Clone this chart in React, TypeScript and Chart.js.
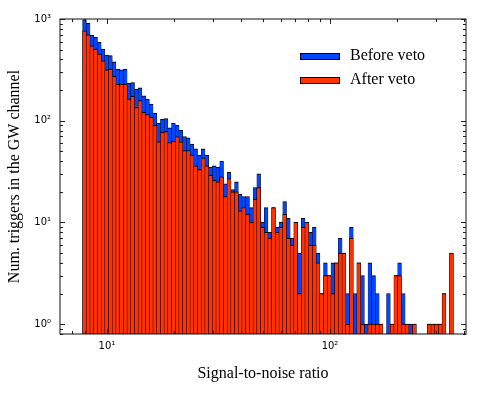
import React, { useEffect, useRef } from "react";
import { Chart, registerables } from "chart.js";

Chart.register(...registerables);

// Histogram definition: log-spaced SNR bins
const SNR_LOW = 7.78;
const SNR_HIGH = 357;
const N_BINS = 100;

// Counts per bin
const beforeVeto = [
  985, 912, 695, 659, 589, 506, 441, 436, 379, 322,
  316, 322, 234, 237, 205, 210, 176, 163, 146, 119,
  94, 104, 105, 85, 94, 90, 81, 70, 68, 59,
  53, 46, 53, 46, 35, 36, 35, 40, 24, 31,
  21, 25, 19, 18, 18, 14, 22, 30, 10, 14,
  8, 14, 9, 10, 16, 11, 7, 10, 5, 11,
  10, 8, 9, 5, 2, 4, 3, 4, 4, 7,
  5, 2, 9, 2, 4, 3, 1, 4, 3, 2,
  1, 0, 2, 1, 3, 4, 2, 1, 1, 1,
  0, 0, 0, 1, 1, 1, 1, 2, 0, 5,
];
const afterVeto = [
  766, 699, 545, 506, 452, 388, 316, 322, 273, 229,
  229, 229, 163, 174, 135, 158, 121, 115, 108, 90,
  62, 77, 78, 61, 63, 70, 62, 51, 51, 46,
  36, 33, 43, 36, 29, 26, 25, 28, 18, 27,
  20, 20, 13, 14, 12, 10, 17, 22, 9, 8,
  7, 14, 8, 9, 12, 7, 6, 10, 2, 9,
  10, 6, 6, 4, 2, 3, 3, 2, 4, 5,
  5, 1, 7, 0, 4, 1, 0, 1, 1, 1,
  1, 0, 0, 1, 3, 3, 1, 1, 0, 1,
  0, 0, 0, 1, 1, 1, 1, 2, 0, 5,
];

const seriesLabels = ["Before veto", "After veto"];
const xTickValues = [10, 100];
const xTickLabels = ["10¹", "10²"];
const yTickValues = [1, 10, 100, 1000];
const yTickLabels = ["10⁰", "10¹", "10²", "10³"];
const xMinorTicks = [7, 8, 9, 20, 30, 40, 50, 60, 70, 80, 90, 200, 300, 400];
const yMinorTicks = [
  0.8, 0.9, 2, 3, 4, 5, 6, 7, 8, 9, 20, 30, 40, 50, 60, 70, 80, 90,
  200, 300, 400, 500, 600, 700, 800, 900,
];

const BLUE = "#0046ff";
const RED = "#ff3200";
const SERIF = "'Liberation Serif', 'DejaVu Serif', serif";
const SANS = "'DejaVu Sans', sans-serif";

const logLo = Math.log10(SNR_LOW);
const logStep = (Math.log10(SNR_HIGH) - logLo) / N_BINS;
const binCenters = Array.from({ length: N_BINS }, (_, i) =>
  Math.pow(10, logLo + (i + 0.5) * logStep)
);

const toPoints = (counts: number[]) =>
  counts.map((c, i) => ({ x: binCenters[i], y: c > 0 ? c : null }));

const decorPlugin = {
  id: "decor",
  afterDatasetsDraw(chart: any) {
    const { ctx, chartArea: ca, scales } = chart;
    const xs = scales.x;
    const ys = scales.y;
    ctx.save();
    ctx.strokeStyle = "#222";
    ctx.lineWidth = 1;
    ctx.beginPath();
    const vTick = (v: number, len: number) => {
      const p = Math.round(xs.getPixelForValue(v)) + 0.5;
      if (p < ca.left || p > ca.right) return;
      ctx.moveTo(p, ca.bottom);
      ctx.lineTo(p, ca.bottom - len);
      ctx.moveTo(p, ca.top);
      ctx.lineTo(p, ca.top + len);
    };
    const hTick = (v: number, len: number) => {
      const p = Math.round(ys.getPixelForValue(v)) + 0.5;
      if (p < ca.top - 1 || p > ca.bottom + 1) return;
      ctx.moveTo(ca.left, p);
      ctx.lineTo(ca.left + len, p);
      ctx.moveTo(ca.right, p);
      ctx.lineTo(ca.right - len, p);
    };
    xTickValues.forEach((v) => vTick(v, 5));
    xMinorTicks.forEach((v) => vTick(v, 3));
    yTickValues.forEach((v) => hTick(v, 5));
    yMinorTicks.forEach((v) => hTick(v, 3));
    ctx.stroke();

    ctx.strokeStyle = "#111";
    ctx.strokeRect(ca.left, ca.top, ca.right - ca.left, ca.bottom - ca.top);

    // legend
    const colors = [BLUE, RED];
    const hx = ca.left + 240;
    const tx = ca.left + 290;
    const rowsY = [ca.top + 37, ca.top + 61];
    ctx.font = `16px ${SERIF}`;
    ctx.textBaseline = "middle";
    ctx.textAlign = "left";
    seriesLabels.forEach((lab, i) => {
      const cy = rowsY[i];
      ctx.fillStyle = colors[i];
      ctx.fillRect(hx, cy - 3, 39, 6);
      ctx.strokeStyle = "#000";
      ctx.lineWidth = 1;
      ctx.strokeRect(hx + 0.5, cy - 3 + 0.5, 39, 6);
      ctx.fillStyle = "#000";
      ctx.fillText(lab, tx, cy);
    });
    ctx.restore();
  },
};

export default function App() {
  const ref = useRef<HTMLCanvasElement>(null);
  useEffect(() => {
    const barCommon = {
      grouped: false,
      categoryPercentage: 1,
      barPercentage: 1,
      borderColor: "#000",
      borderWidth: { top: 1, left: 0.5, right: 0.5, bottom: 0 },
    };
    const chart = new Chart(ref.current!, {
      type: "bar",
      data: {
        datasets: [
          {
            ...barCommon,
            label: seriesLabels[0],
            data: toPoints(beforeVeto),
            backgroundColor: BLUE,
            order: 2,
          } as any,
          {
            ...barCommon,
            label: seriesLabels[1],
            data: toPoints(afterVeto),
            backgroundColor: RED,
            order: 1,
          } as any,
        ],
      },
      options: {
        responsive: false,
        devicePixelRatio: 1,
        animation: false,
        events: [],
        layout: { padding: { top: 19, right: 18, left: 0, bottom: 0 } },
        plugins: { legend: { display: false }, tooltip: { enabled: false } },
        scales: {
          x: {
            type: "logarithmic",
            position: "bottom",
            min: 6.16,
            max: 407,
            offset: false,
            grid: { display: false, drawTicks: false },
            border: { display: false },
            afterBuildTicks: (s: any) => {
              s.ticks = xTickValues.map((v) => ({ value: v }));
            },
            afterFit: (s: any) => {
              s.height = 61;
            },
            ticks: {
              autoSkip: false,
              maxRotation: 0,
              padding: 6,
              color: "#000",
              font: { family: SANS, size: 10 },
              callback: (v: any) => {
                const i = xTickValues.indexOf(Number(v));
                return i >= 0 ? xTickLabels[i] : "";
              },
            },
            title: {
              display: true,
              text: "Signal-to-noise ratio",
              color: "#000",
              font: { family: SERIF, size: 16 },
              padding: { top: 0, bottom: 12 },
            },
          } as any,
          y: {
            type: "logarithmic",
            position: "left",
            min: 0.8,
            max: 1000,
            grid: { display: false, drawTicks: false },
            border: { display: false },
            afterBuildTicks: (s: any) => {
              s.ticks = yTickValues.map((v) => ({ value: v }));
            },
            afterFit: (s: any) => {
              s.width = 60;
            },
            ticks: {
              autoSkip: false,
              padding: 9,
              color: "#000",
              font: { family: SANS, size: 10 },
              callback: (v: any) => {
                const i = yTickValues.indexOf(Number(v));
                return i >= 0 ? yTickLabels[i] : "";
              },
            },
            title: {
              display: true,
              text: "Num. triggers in the GW channel",
              color: "#000",
              font: { family: SERIF, size: 16 },
              padding: { top: 5, bottom: 0 },
            },
          } as any,
        },
      },
      plugins: [decorPlugin],
    });
    return () => chart.destroy();
  }, []);
  return (
    <div
      style={{
        position: "absolute",
        left: 0,
        top: 0,
        width: 484,
        height: 395,
        background: "#fff",
      }}
    >
      <canvas
        ref={ref}
        width={484}
        height={395}
        style={{ width: 484, height: 395, display: "block" }}
      />
    </div>
  );
}
